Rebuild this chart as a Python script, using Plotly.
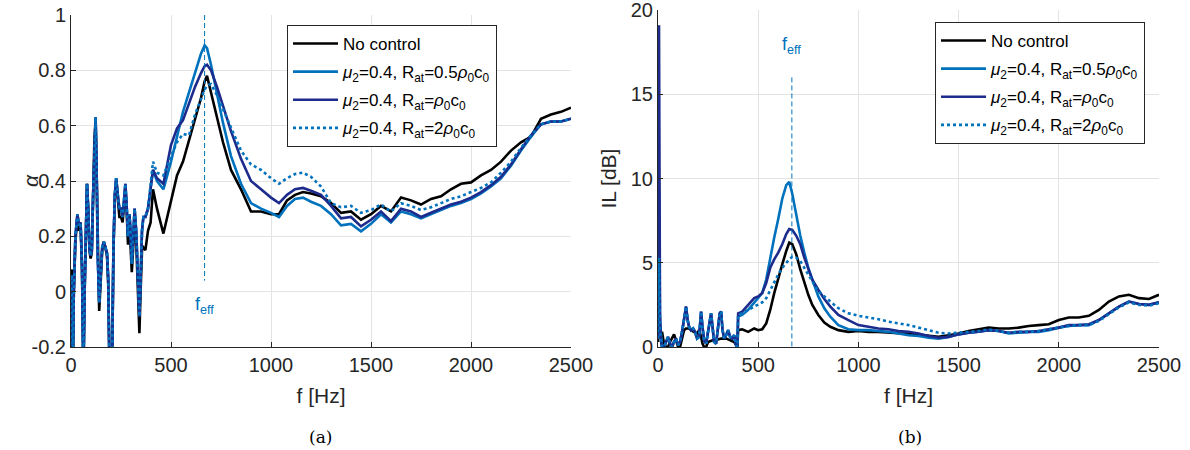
import plotly.graph_objects as go

# ---------------- data ----------------
F_EFF = 668  # Hz

# (a) absorption coefficient alpha -- low-frequency part (0-400 Hz)
f_a_low = [0, 4, 9, 14, 22, 32, 40, 48, 55, 62, 68, 75, 80, 86, 92, 98, 104, 110, 117, 123,
           128, 134, 141, 148, 156, 164, 172, 180, 186, 193, 205, 212, 219, 226, 234, 242, 250,
           258, 265, 272, 279, 285, 292, 298, 304, 311, 318, 326, 334, 342, 348, 355, 362, 372,
           385, 398]
a_low_ctrl = [0.04, 0.06, -0.3, 0.0, 0.2, 0.28, 0.24, 0.25, 0.1, -0.3, 0.0, 0.3, 0.39, 0.3, 0.16,
              0.13, 0.15, 0.33, 0.55, 0.63, 0.45, 0.12, -0.04, 0.05, 0.16, 0.18, 0.16, 0.14, 0.05,
              -0.3, -0.3, 0.15, 0.35, 0.41, 0.35, 0.30, 0.30, 0.27, 0.33, 0.39, 0.30, 0.20, 0.28,
              0.22, 0.10, 0.20, 0.30, 0.22, 0.05, -0.09, 0.05, 0.22, 0.27, 0.27, 0.30, 0.38]
a_low_none = [0.07, 0.08, -0.3, 0.0, 0.18, 0.27, 0.22, 0.24, 0.08, -0.3, 0.0, 0.3, 0.39, 0.3, 0.15,
              0.12, 0.14, 0.33, 0.55, 0.62, 0.43, 0.08, -0.07, 0.03, 0.15, 0.18, 0.16, 0.13, 0.03,
              -0.3, -0.3, 0.14, 0.34, 0.40, 0.33, 0.27, 0.27, 0.25, 0.31, 0.38, 0.28, 0.17, 0.25,
              0.16, 0.07, 0.16, 0.26, 0.18, 0.0, -0.15, 0.0, 0.15, 0.16, 0.15, 0.22, 0.25]

# (a) alpha -- 410-2500 Hz
f_a_high = [410, 430, 462, 500, 530, 560, 590, 620, 650, 668, 680, 700, 730, 760, 800, 850, 900,
            950, 1000, 1040, 1080, 1120, 1160, 1200, 1250, 1300, 1350, 1400, 1450, 1500, 1550,
            1600, 1650, 1700, 1750, 1800, 1850, 1900, 1950, 2000, 2050, 2100, 2150, 2200, 2250,
            2300, 2350, 2400, 2450, 2500]
a_none = [0.37, 0.30, 0.21, 0.33, 0.42, 0.47, 0.55, 0.63, 0.70, 0.76, 0.78, 0.72, 0.63, 0.54,
          0.44, 0.37, 0.29, 0.29, 0.28, 0.28, 0.33, 0.35, 0.36, 0.355, 0.345, 0.32, 0.285, 0.29,
          0.26, 0.28, 0.31, 0.29, 0.34, 0.33, 0.315, 0.335, 0.345, 0.37, 0.39, 0.395, 0.42, 0.44,
          0.47, 0.51, 0.54, 0.56, 0.625, 0.64, 0.65, 0.665]
a_r05 = [0.44, 0.40, 0.37, 0.47, 0.56, 0.65, 0.72, 0.79, 0.86, 0.89, 0.88, 0.82, 0.72, 0.61,
         0.49, 0.39, 0.32, 0.30, 0.285, 0.27, 0.31, 0.335, 0.34, 0.325, 0.31, 0.28, 0.24, 0.245,
         0.218, 0.245, 0.28, 0.25, 0.29, 0.28, 0.265, 0.28, 0.295, 0.31, 0.32, 0.335, 0.355,
         0.38, 0.41, 0.455, 0.51, 0.56, 0.605, 0.615, 0.615, 0.625]
a_r1 = [0.44, 0.41, 0.39, 0.53, 0.59, 0.62, 0.68, 0.74, 0.79, 0.815, 0.82, 0.80, 0.74, 0.67,
        0.58, 0.48, 0.40, 0.37, 0.34, 0.32, 0.35, 0.37, 0.375, 0.365, 0.35, 0.31, 0.265, 0.27,
        0.236, 0.26, 0.29, 0.255, 0.30, 0.29, 0.27, 0.285, 0.30, 0.315, 0.325, 0.34, 0.36, 0.385,
        0.415, 0.46, 0.515, 0.565, 0.605, 0.615, 0.615, 0.625]
a_r2 = [0.47, 0.43, 0.42, 0.49, 0.54, 0.57, 0.565, 0.64, 0.70, 0.73, 0.745, 0.75, 0.71, 0.66,
        0.59, 0.51, 0.46, 0.44, 0.41, 0.39, 0.41, 0.425, 0.43, 0.415, 0.38, 0.32, 0.305, 0.31,
        0.285, 0.295, 0.315, 0.29, 0.32, 0.31, 0.295, 0.305, 0.32, 0.335, 0.345, 0.36, 0.375,
        0.395, 0.43, 0.47, 0.52, 0.565, 0.605, 0.615, 0.615, 0.625]

# (b) insertion loss IL [dB] -- low-frequency part
f_il_spike = [0, 5, 10]
il_spike_none = [0.3, 1.8, 1.0]
il_spike_r05 = [0.5, 9.4, 1.5]
il_spike_r1 = [0.5, 19.1, 2.0]
il_spike_r2 = [0.5, 5.3, 1.0]

f_il_low = [15, 20, 30, 40, 50, 60, 70, 80, 90, 100, 110, 120, 130, 140, 148, 155, 165, 175,
            185, 195, 205, 215, 222, 230, 240, 250, 258, 265, 272, 280, 290, 300, 308, 315, 322,
            330, 340, 350, 360, 370, 380, 390, 396]
il_low_ctrl = [0.3, 0.0, 0.0, 0.3, 0.6, 0.2, 0.0, 0.3, 0.5, 0.1, 0.3, 0.9, 1.6, 2.4, 1.6, 1.2,
               1.0, 1.1, 0.9, 0.5, 0.6, 2.1, 1.2, 0.4, 0.2, 0.8, 1.5, 2.0, 1.0, 0.3, 0.2, 1.2,
               2.0, 2.1, 1.0, 0.5, 0.7, 1.0, 0.6, 0.5, 0.7, 0.1, 0.0]
il_low_none = [0.5, 0.9, 0.2, 0.0, 0.0, 0.3, 0.5, 0.75, 0.4, 0.0, 0.0, 0.6, 1.0, 1.1, 1.1, 1.1,
               1.0, 0.9, 0.85, 0.8, 1.0, 0.6, 0.2, 0.0, 0.0, 0.3, 0.35, 0.4, 0.4, 0.4, 0.4,
               0.45, 0.5, 0.5, 0.5, 0.5, 0.5, 0.45, 0.4, 0.35, 0.3, 0.1, 0.0]

# (b) IL -- 400-2500 Hz
f_il_high = [400, 420, 450, 480, 500, 520, 540, 560, 580, 600, 620, 640, 655, 670, 690, 710,
             730, 750, 770, 800, 830, 860, 900, 950, 1000, 1050, 1100, 1150, 1200, 1250, 1300,
             1350, 1400, 1450, 1500, 1550, 1600, 1650, 1700, 1750, 1800, 1850, 1900, 1950, 2000,
             2050, 2100, 2150, 2200, 2250, 2300, 2350, 2400, 2450, 2500]
il_none = [1.0, 1.05, 0.9, 1.1, 1.0, 1.05, 1.4, 2.2, 3.2, 4.1, 4.9, 5.7, 6.2, 6.1, 5.5, 4.6,
           3.8, 3.1, 2.5, 1.9, 1.45, 1.2, 1.0, 0.9, 0.95, 0.9, 0.9, 0.85, 0.82, 0.8, 0.72, 0.65,
           0.6, 0.7, 0.8, 0.95, 1.05, 1.15, 1.1, 1.1, 1.15, 1.25, 1.3, 1.35, 1.6, 1.75, 1.75,
           1.85, 2.2, 2.7, 3.0, 3.1, 2.9, 2.85, 3.1]
il_r05 = [1.8, 1.9, 2.2, 2.6, 2.9, 3.2, 4.0, 5.3, 6.5, 7.6, 8.8, 9.6, 9.8, 9.1, 7.8, 6.6, 5.6,
          4.7, 4.0, 3.0, 2.3, 1.8, 1.3, 1.05, 1.0, 1.0, 0.95, 0.9, 0.8, 0.7, 0.65, 0.55, 0.5,
          0.6, 0.75, 0.85, 0.9, 1.0, 0.95, 0.8, 0.85, 0.9, 0.9, 1.0, 1.15, 1.25, 1.3, 1.3, 1.6,
          2.0, 2.4, 2.7, 2.55, 2.5, 2.65]
il_r1 = [2.0, 2.1, 2.5, 2.9, 3.0, 3.2, 3.8, 4.7, 5.2, 5.6, 6.1, 6.7, 7.0, 6.95, 6.6, 6.1, 5.3,
         4.6, 4.0, 3.4, 2.85, 2.4, 1.9, 1.6, 1.3, 1.2, 1.1, 1.05, 0.95, 0.9, 0.8, 0.65, 0.55,
         0.6, 0.75, 0.85, 0.9, 1.0, 0.95, 0.85, 0.9, 0.9, 0.95, 1.05, 1.15, 1.3, 1.3, 1.35, 1.6,
         2.0, 2.4, 2.7, 2.55, 2.5, 2.65]
il_r2 = [1.9, 2.0, 2.2, 2.4, 2.5, 2.65, 2.9, 3.4, 3.8, 4.3, 4.7, 5.0, 5.2, 5.35, 5.3, 5.1, 4.7,
         4.3, 3.9, 3.3, 3.0, 2.7, 2.3, 2.0, 1.85, 1.75, 1.65, 1.5, 1.4, 1.3, 1.15, 1.0, 0.85,
         0.8, 0.85, 0.9, 0.95, 1.05, 0.95, 0.85, 0.9, 0.9, 0.95, 1.05, 1.15, 1.25, 1.3, 1.3,
         1.55, 1.95, 2.35, 2.65, 2.5, 2.45, 2.6]

alpha_tickvals = [-0.2, 0, 0.2, 0.4, 0.6, 0.8, 1]
alpha_ticktext = ["-0.2", "0", "0.2", "0.4", "0.6", "0.8", "1"]
il_tickvals = [0, 5, 10, 15, 20]
f_tickvals = [0, 500, 1000, 1500, 2000, 2500]

series_names = [
    "No control",
    "<i>μ</i><sub>2</sub>=0.4, R<sub>at</sub>=0.5<i>ρ</i><sub>0</sub>c<sub>0</sub>",
    "<i>μ</i><sub>2</sub>=0.4, R<sub>at</sub>=<i>ρ</i><sub>0</sub>c<sub>0</sub>",
    "<i>μ</i><sub>2</sub>=0.4, R<sub>at</sub>=2<i>ρ</i><sub>0</sub>c<sub>0</sub>",
]

# ---------------- styles ----------------
BLACK = "#000000"
LIGHT = "#0072BD"
DARK = "#1C2B8C"
AX = "#262626"
GRID = "#E3E3E3"
FONT = "Liberation Sans, Arial, sans-serif"
TICK_SIZE = 20
TITLE_SIZE = 21
LEG_SIZE = 17

styles = [
    dict(color=BLACK, width=2.6, dash="solid"),
    dict(color=LIGHT, width=2.6, dash="solid"),
    dict(color=DARK, width=2.6, dash="solid"),
    dict(color=LIGHT, width=2.6, dash="dot"),
]

W, H = 1190, 450


def px_x(p):
    return p / W


def px_y(p):
    return 1 - p / H


fig = go.Figure()

# (a) traces
a_x = [f_a_low + f_a_high] * 4
a_y = [a_low_none + a_none, a_low_ctrl + a_r05, a_low_ctrl + a_r1, a_low_ctrl + a_r2]
for i in range(4):
    fig.add_trace(go.Scatter(x=a_x[i], y=a_y[i], mode="lines", name=series_names[i],
                             line=styles[i], xaxis="x", yaxis="y", legend="legend",
                             legendgroup="a%d" % i, legendrank=i + 1))

# (b) traces
il_x = [f_il_spike + f_il_low + f_il_high] * 4
il_y = [il_spike_none + il_low_none + il_none,
        il_spike_r05 + il_low_ctrl + il_r05,
        il_spike_r1 + il_low_ctrl + il_r1,
        il_spike_r2 + il_low_ctrl + il_r2]
for i in range(4):
    fig.add_trace(go.Scatter(x=il_x[i], y=il_y[i], mode="lines", name=series_names[i],
                             line=styles[i], xaxis="x2", yaxis="y2", legend="legend2",
                             legendgroup="b%d" % i, legendrank=i + 1))

# f_eff markers
fig.add_trace(go.Scatter(x=[F_EFF, F_EFF], y=[1, 0.04], mode="lines", showlegend=False,
                         line=dict(color=LIGHT, width=1, dash="5px,3px"), xaxis="x", yaxis="y"))
fig.add_trace(go.Scatter(x=[F_EFF, F_EFF], y=[16, 0], mode="lines", showlegend=False,
                         line=dict(color=LIGHT, width=1, dash="5px,3px"), xaxis="x2", yaxis="y2"))

fig.add_annotation(x=F_EFF, y=-0.05, xref="x", yref="y", text="f<sub>eff</sub>",
                   showarrow=False, font=dict(family=FONT, size=18, color=LIGHT))
fig.add_annotation(x=F_EFF, y=17.9, xref="x2", yref="y2", text="f<sub>eff</sub>",
                   showarrow=False, font=dict(family=FONT, size=18, color=LIGHT))

axis_common = dict(showline=True, linecolor=AX, linewidth=1, ticks="inside", ticklen=5,
                   tickcolor=AX, showgrid=True, gridcolor=GRID, gridwidth=1, zeroline=False,
                   tickfont=dict(family=FONT, size=TICK_SIZE, color=AX), mirror=False,
                   automargin=False, ticklabeloverflow="allow")

fig.update_layout(
    width=W, height=H,
    margin=dict(l=0, r=0, t=0, b=0),
    paper_bgcolor="white", plot_bgcolor="white",
    font=dict(family=FONT, color=AX),
    xaxis=dict(axis_common, domain=[px_x(71), px_x(571)], range=[0, 2500],
               tickvals=f_tickvals, anchor="y",
               title=dict(text="f [Hz]", font=dict(size=TITLE_SIZE, color=AX), standoff=13)),
    yaxis=dict(axis_common, domain=[px_y(347), px_y(15)], range=[-0.2, 1],
               tickvals=alpha_tickvals, ticktext=alpha_ticktext, anchor="x"),
    xaxis2=dict(axis_common, domain=[px_x(658), px_x(1159)], range=[0, 2500],
                tickvals=f_tickvals, anchor="y2",
                title=dict(text="f [Hz]", font=dict(size=TITLE_SIZE, color=AX), standoff=13)),
    yaxis2=dict(axis_common, domain=[px_y(347), px_y(10)], range=[0, 20],
                tickvals=il_tickvals, anchor="x2",
                title=dict(text="IL [dB]", font=dict(size=TITLE_SIZE, color=AX), standoff=8)),
    legend=dict(x=px_x(287), y=px_y(25), xanchor="left", yanchor="top",
                bgcolor="white", bordercolor=AX, borderwidth=1,
                font=dict(family=FONT, size=LEG_SIZE, color="#000"), itemwidth=45,
                tracegroupgap=3),
    legend2=dict(x=px_x(935), y=px_y(22), xanchor="left", yanchor="top",
                 bgcolor="white", bordercolor=AX, borderwidth=1,
                 font=dict(family=FONT, size=LEG_SIZE, color="#000"), itemwidth=45,
                 tracegroupgap=3),
    showlegend=True,
)

# y-axis title of (a)
fig.add_annotation(x=px_x(30), y=px_y(181), xref="paper", yref="paper", text="<i>α</i>",
                   textangle=-90, showarrow=False, xanchor="center", yanchor="middle",
                   font=dict(family=FONT, size=TITLE_SIZE, color=AX))

fig.add_annotation(x=px_x(320), y=px_y(437), xref="paper", yref="paper", text="(a)",
                   showarrow=False, xanchor="center", yanchor="middle",
                   font=dict(family="DejaVu Serif, serif", size=17, color="#000"))
fig.add_annotation(x=px_x(910), y=px_y(437), xref="paper", yref="paper", text="(b)",
                   showarrow=False, xanchor="center", yanchor="middle",
                   font=dict(family="DejaVu Serif, serif", size=17, color="#000"))

fig.write_html("out.html", config={"displayModeBar": False},
               post_script="document.body.style.margin='0px';")
